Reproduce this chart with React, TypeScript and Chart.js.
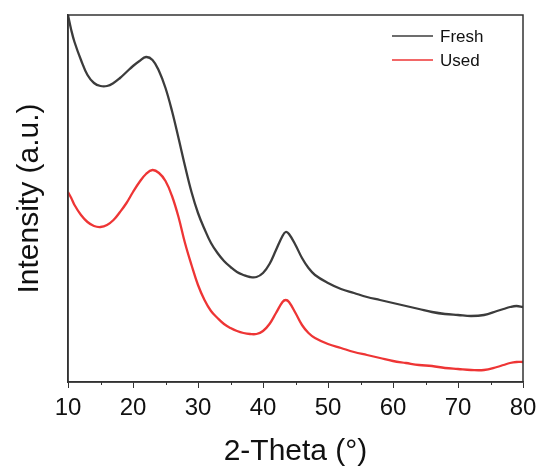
import React, { useEffect, useRef } from "react";
import { Chart, registerables } from "chart.js";

Chart.register(...registerables);

const twoTheta = [10, 10.5, 11, 12, 13, 14, 15, 16, 17, 18, 19, 20, 21, 22, 23, 24, 25, 26, 27, 28, 29, 30, 31, 32, 33, 34, 35, 36, 37, 38, 39, 40, 41, 42, 43, 43.5, 44, 45, 46, 47, 48, 50, 52, 54, 56, 58, 60, 62, 64, 66, 68, 70, 72, 74, 76, 77, 78, 79, 80];

const fresh = [367, 352, 340, 322, 307, 299, 296, 296, 299, 304, 310, 316, 321, 325, 322, 311, 294, 271, 244, 216, 190, 169, 153, 139, 129, 121, 115, 110, 107, 105, 105, 109, 118, 132, 146, 150, 148, 137, 124, 114, 107, 99, 93, 89, 85, 82, 79, 76, 73, 70, 68, 67, 66, 67, 71, 73, 75, 76, 75];

const used = [190, 184, 177, 167, 160, 156, 155, 157, 162, 170, 179, 190, 200, 208, 212, 209, 201, 186, 165, 139, 117, 97, 82, 71, 64, 58, 54, 51, 49, 48, 48, 51, 58, 69, 80, 82, 80, 69, 57, 49, 44, 38, 34, 30, 27, 24, 21, 19, 17, 16, 14, 13, 12, 12, 15, 17, 19, 20, 20];

const seriesNames = ["Fresh", "Used"];
const seriesColors = ["#3c3c3c", "#ee3535"];
const minorTicks = [15, 25, 35, 45, 55, 65, 75];
const FONT = "'Liberation Sans', Arial, sans-serif";

const framePlugin = {
  id: "frame",
  afterDraw(chart: any) {
    const { ctx, chartArea } = chart;
    const xs = chart.scales.x;
    ctx.save();
    ctx.strokeStyle = "#333";
    ctx.lineWidth = 1.5;
    ctx.strokeRect(chartArea.left, chartArea.top, chartArea.right - chartArea.left, chartArea.bottom - chartArea.top);
    ctx.lineWidth = 1;
    for (const v of minorTicks) {
      const px = Math.round(xs.getPixelForValue(v)) + 0.5;
      ctx.beginPath();
      ctx.moveTo(px, chartArea.bottom);
      ctx.lineTo(px, chartArea.bottom + 3);
      ctx.stroke();
    }
    ctx.font = `17px ${FONT}`;
    ctx.textBaseline = "middle";
    ctx.textAlign = "left";
    seriesNames.forEach((name, i) => {
      const y = 36 + i * 24;
      ctx.strokeStyle = seriesColors[i];
      ctx.lineWidth = 1.5;
      ctx.beginPath();
      ctx.moveTo(392, y);
      ctx.lineTo(433, y);
      ctx.stroke();
      ctx.fillStyle = "#111";
      ctx.fillText(name, 440, y + 1);
    });
    ctx.restore();
  },
};

export default function App() {
  const ref = useRef<HTMLCanvasElement>(null);
  useEffect(() => {
    document.body.style.margin = "0";
    const chart = new Chart(ref.current!, {
      type: "line",
      data: {
        labels: twoTheta,
        datasets: [
          {
            label: seriesNames[0],
            data: twoTheta.map((x, i) => ({ x, y: fresh[i] })),
            borderColor: seriesColors[0],
            borderWidth: 2.3,
            pointRadius: 0,
            tension: 0.4,
          },
          {
            label: seriesNames[1],
            data: twoTheta.map((x, i) => ({ x, y: used[i] })),
            borderColor: seriesColors[1],
            borderWidth: 2.3,
            pointRadius: 0,
            tension: 0.4,
          },
        ],
      },
      options: {
        responsive: false,
        animation: false,
        layout: { padding: { top: 15, right: 21, left: 0, bottom: 0 } },
        plugins: { legend: { display: false }, tooltip: { enabled: false } },
        scales: {
          x: {
            type: "linear",
            min: 10,
            max: 80,
            border: { display: true, color: "#333", width: 1.5 },
            grid: { drawOnChartArea: false, tickLength: 6, tickColor: "#333", tickWidth: 1 },
            ticks: { stepSize: 10, color: "#111", padding: 6, font: { family: FONT, size: 24 }, maxRotation: 0 },
            title: { display: true, text: "2-Theta (°)", color: "#111", font: { family: FONT, size: 30 }, padding: { top: 0, bottom: 3 } },
            afterFit: (s: any) => { s.height = 91; },
          },
          y: {
            min: 0,
            max: 367,
            border: { display: true, color: "#333", width: 1.5 },
            grid: { drawOnChartArea: false, drawTicks: false },
            ticks: { display: false },
            title: { display: true, text: "Intensity (a.u.)", color: "#111", font: { family: FONT, size: 30 }, padding: { top: 12, bottom: 0 } },
            afterFit: (s: any) => { s.width = 68; },
          },
        },
      },
      plugins: [framePlugin],
    });
    return () => chart.destroy();
  }, []);
  return <canvas ref={ref} width={544} height={473} style={{ display: "block" }} />;
}
